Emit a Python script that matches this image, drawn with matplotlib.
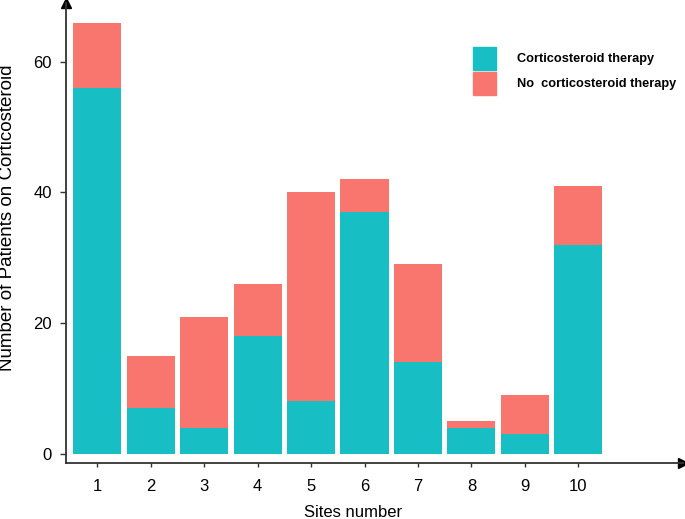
import matplotlib.pyplot as plt
from matplotlib.patches import Patch

plt.rcParams['font.family'] = ['Liberation Sans', 'DejaVu Sans']

sites = [1, 2, 3, 4, 5, 6, 7, 8, 9, 10]
site_labels = ['1', '2', '3', '4', '5', '6', '7', '8', '9', '10']
cortico = [56, 7, 4, 18, 8, 37, 14, 4, 3, 32]
no_cortico = [10, 8, 17, 8, 32, 5, 15, 1, 6, 9]
yticks = [0, 20, 40, 60]

teal = '#17BEC4'
salmon = '#F8766D'
axis_col = '#333333'

fig = plt.figure(figsize=(6.85, 5.19), dpi=100)
ax = fig.add_axes([66/685, 56.3/519, 617/685, 459.7/519])

ax.bar(sites, cortico, width=0.9, color=teal, linewidth=0)
ax.bar(sites, no_cortico, width=0.9, bottom=cortico, color=salmon, linewidth=0)

ax.set_xlim(0.414, 11.96)
ax.set_ylim(-1.38, 69.0)
ax.set_xticks(sites)
ax.set_xticklabels(site_labels)
ax.set_yticks(yticks)

for side in ['top', 'right']:
    ax.spines[side].set_visible(False)
for side in ['left', 'bottom']:
    ax.spines[side].set_color(axis_col)
    ax.spines[side].set_linewidth(1.3)

# arrow heads on axes ends
ax.plot(1, 0, '>', color='black', markersize=7, transform=ax.transAxes, clip_on=False)
ax.plot(0, 1, '^', color='black', markersize=7, transform=ax.transAxes, clip_on=False)

ax.tick_params(axis='x', length=3, width=1, color=axis_col, pad=9, labelsize=12)
ax.tick_params(axis='y', length=4, width=1, color=axis_col, pad=6, labelsize=12)

ax.set_ylabel('Number of Patients on Corticosteroid', fontsize=13.5)
ax.yaxis.set_label_coords(-0.081, 0.532)
ax.set_xlabel('Sites number', fontsize=12)
ax.xaxis.set_label_coords(0.466, -0.092)

handles = [Patch(color=teal, label='Corticosteroid therapy'),
           Patch(color=salmon, label='No  corticosteroid therapy')]
leg = fig.legend(handles=handles, loc='upper left',
                 bbox_to_anchor=(473/685, 1 - 47/519),
                 bbox_transform=fig.transFigure, frameon=False,
                 borderpad=0, borderaxespad=0, handlelength=1.8,
                 handleheight=2.39, handletextpad=1.65, labelspacing=0.16,
                 prop={'weight': 'bold', 'size': 9.2})

fig.savefig('out.png', dpi=100)
